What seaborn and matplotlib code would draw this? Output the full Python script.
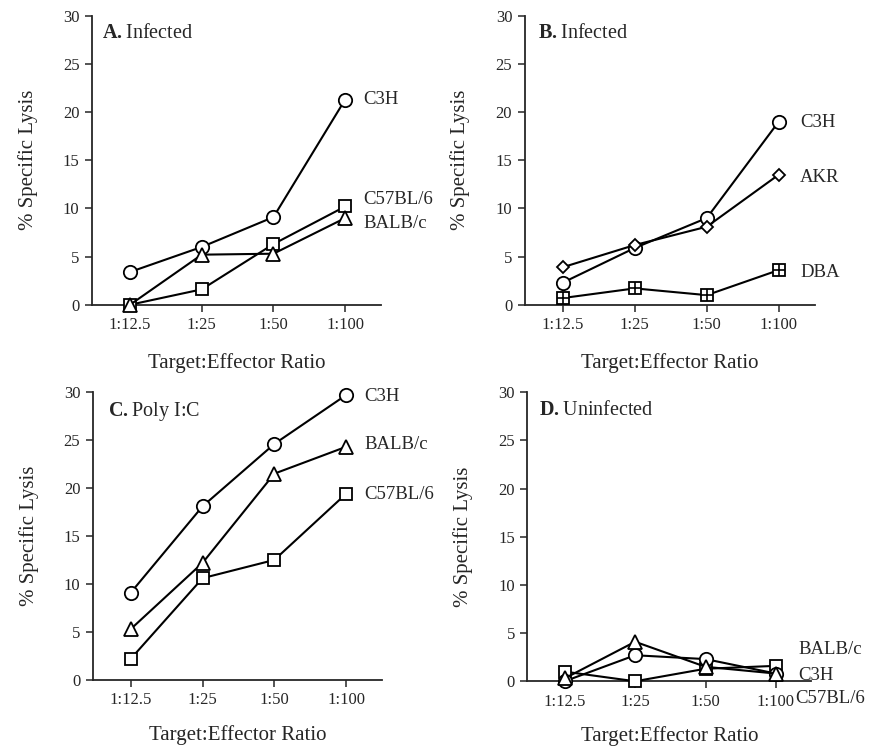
import matplotlib
matplotlib.use("Agg")
import matplotlib.pyplot as plt
import pandas as pd
import seaborn as sns

sns.set_style("ticks")
plt.rcParams['font.family'] = ['Liberation Serif', 'DejaVu Serif']
plt.rcParams['mathtext.fontset'] = 'custom'
plt.rcParams['mathtext.rm'] = 'Liberation Serif'
plt.rcParams['mathtext.bf'] = 'Liberation Serif:bold'

#data
ratios = ["1:12.5", "1:25", "1:50", "1:100"]

a_c3h = [3.4, 6.0, 9.1, 21.3]
a_c57 = [0.0, 1.6, 6.3, 10.2]
a_balb = [0.0, 5.2, 5.3, 9.0]

b_c3h = [2.3, 5.9, 9.0, 19.0]
b_akr = [3.9, 6.2, 8.1, 13.5]
b_dba = [0.7, 1.7, 1.0, 3.6]

c_c3h = [9.1, 18.1, 24.6, 29.7]
c_balb = [5.3, 12.2, 21.5, 24.3]
c_c57 = [2.2, 10.6, 12.5, 19.4]

d_balb = [0.3, 4.1, 1.5, 0.8]
d_c3h = [0.0, 2.7, 2.3, 0.8]
d_c57 = [1.0, 0.0, 1.3, 1.6]

#panel -> (title letter, title, series list)
panels = [
    ("A", "Infected", [("C3H", a_c3h, "o"), ("C57BL/6", a_c57, "s"), ("BALB/c", a_balb, "^")]),
    ("B", "Infected", [("C3H", b_c3h, "o"), ("AKR", b_akr, "D"), ("DBA", b_dba, "s+")]),
    ("C", "Poly I:C", [("C3H", c_c3h, "o"), ("BALB/c", c_balb, "^"), ("C57BL/6", c_c57, "s")]),
    ("D", "Uninfected", [("C57BL/6", d_c57, "s"), ("C3H", d_c3h, "o"), ("BALB/c", d_balb, "^")]),
]

#label positions (x, y) in data units
labels = {
    "A": [("C3H", 3.25, 21.3), ("C57BL/6", 3.25, 10.9), ("BALB/c", 3.25, 8.4)],
    "B": [("C3H", 3.3, 18.9), ("AKR", 3.3, 13.2), ("DBA", 3.3, 3.4)],
    "C": [("C3H", 3.25, 29.6), ("BALB/c", 3.25, 24.5), ("C57BL/6", 3.25, 19.3)],
    "D": [("BALB/c", 3.32, 3.3), ("C3H", 3.32, 0.6), ("C57BL/6", 3.27, -1.8)],
}

boxes = [
    [0.105, 0.592, 0.330, 0.387],
    [0.599, 0.592, 0.331, 0.387],
    [0.106, 0.090, 0.330, 0.385],
    [0.602, 0.088, 0.324, 0.387],
]
title_pos = [(0.035, 0.938), (0.045, 0.938), (0.052, 0.934), (0.042, 0.938)]

sizes = {"o": 9.6, "s": 9.2, "^": 9.6, "D": 6.4}

fig = plt.figure(figsize=(8.76, 7.47), dpi=100)

for i, (letter, title, series) in enumerate(panels):
    ax = fig.add_axes(boxes[i])
    for name, vals, mk in series:
        df = pd.DataFrame({"ratio": ratios, "lysis": vals})
        m = "s" if mk == "s+" else mk
        sns.lineplot(x="ratio", y="lysis", data=df, ax=ax, color="black",
                     linewidth=1.5, marker=m, markersize=sizes[m],
                     markerfacecolor="white", markeredgecolor="black",
                     markeredgewidth=1.3, clip_on=False, sort=False, zorder=3)
        if mk == "s+":
            sns.scatterplot(x="ratio", y="lysis", data=df, ax=ax, marker="+",
                            color="black", s=80, linewidth=1.2, clip_on=False, zorder=4)

    for txt, lx, ly in labels[letter]:
        ax.text(lx, ly, txt, fontsize=13.5, va="center", ha="left", clip_on=False)

    ax.text(title_pos[i][0], title_pos[i][1], r"$\mathbf{" + letter + r".}$" + title,
            transform=ax.transAxes, fontsize=14.5, va="center", ha="left")

    ax.set_xlim(-0.53, 3.5)
    ax.set_ylim(0, 30)
    ax.set_yticks([0, 5, 10, 15, 20, 25, 30])
    ax.set_xticks(range(len(ratios)))
    ax.set_xticklabels(ratios)
    ax.tick_params(axis="both", labelsize=12, length=5, width=1.1, direction="out", pad=4)
    ax.set_xlabel("Target:Effector Ratio", fontsize=15, labelpad=14 if i < 2 else 12)
    ax.set_ylabel("% Specific Lysis", fontsize=15, labelpad=18)
    for s in ["top", "right"]:
        ax.spines[s].set_visible(False)
    for s in ["left", "bottom"]:
        ax.spines[s].set_linewidth(1.3)

plt.savefig("out.png", dpi=100)
